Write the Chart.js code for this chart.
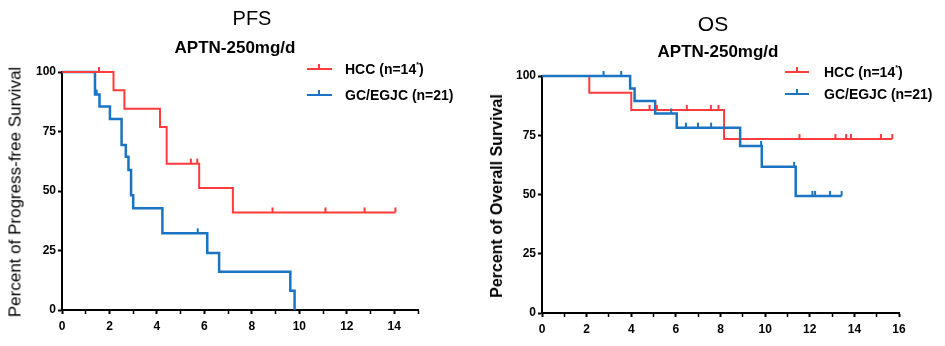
<!DOCTYPE html>
<html><head><meta charset="utf-8">
<script src="https://cdn.jsdelivr.net/npm/chart.js@4.4.0/dist/chart.umd.min.js"></script>
<style>
body{margin:0;background:#fff;}
#wrap{position:relative;width:945px;height:346px;overflow:hidden;font-family:"Liberation Sans",Arial,Helvetica,sans-serif;color:#000;background:#fff;}
.t{position:absolute;white-space:nowrap;transform:translate(-50%,-50%);line-height:1;}
.yt{position:absolute;white-space:nowrap;transform:translate(-50%,-50%) rotate(-90deg);line-height:1;}
.leg{position:absolute;font-weight:bold;font-size:14px;white-space:nowrap;line-height:1;transform:translateY(-50%);}
.leg sup{font-size:7px;vertical-align:top;position:relative;top:-1px;}
.sw{position:absolute;height:2px;}
.tk{position:absolute;width:2px;height:5px;}
canvas{position:absolute;top:0;}
</style></head>
<body>
<div id="wrap">
  <canvas id="c1" width="470" height="346" style="left:0"></canvas>
  <canvas id="c2" width="475" height="346" style="left:470px"></canvas>

  <div class="t" style="left:252px;top:18px;font-size:20px;">PFS</div>
  <div class="t" style="left:235px;top:47px;font-size:17px;font-weight:bold;">APTN-250mg/d</div>
  <div class="yt" style="left:15px;top:192px;font-size:17px;">Percent of Progress-free Survival</div>

  <div class="sw" style="left:307px;top:68px;width:25px;background:#ff3b3b"></div>
  <div class="tk" style="left:318px;top:64px;background:#ff3b3b"></div>
  <div class="leg" style="left:345px;top:69px;">HCC (n=14<sup>*</sup>)</div>
  <div class="sw" style="left:307px;top:94px;width:25px;background:#1a74c2"></div>
  <div class="tk" style="left:318px;top:90px;background:#1a74c2"></div>
  <div class="leg" style="left:345px;top:95px;">GC/EGJC (n=21)</div>

  <div class="t" style="left:713px;top:23px;font-size:21px;">OS</div>
  <div class="t" style="left:718px;top:51px;font-size:17px;font-weight:bold;">APTN-250mg/d</div>
  <div class="yt" style="left:497px;top:196px;font-size:16px;font-weight:bold;">Percent of Overall Survival</div>

  <div class="sw" style="left:785px;top:71px;width:24px;background:#ff3b3b"></div>
  <div class="tk" style="left:796px;top:67px;background:#ff3b3b"></div>
  <div class="leg" style="left:824px;top:72px;">HCC (n=14<sup>*</sup>)</div>
  <div class="sw" style="left:785px;top:93px;width:24px;background:#1a74c2"></div>
  <div class="tk" style="left:796px;top:89px;background:#1a74c2"></div>
  <div class="leg" style="left:824px;top:94px;">GC/EGJC (n=21)</div>
</div>
<script>
// ---- data (months, percent survival) ----
const pfsHccTimes  = [0, 2.17, 2.63, 4.13, 4.41, 5.78, 7.2, 14.05];
const pfsHccSurv   = [100, 92.3, 84.6, 76.9, 61.5, 51.3, 41.0, 41.0];
const pfsHccCensor = [1.56, 5.43, 5.7, 8.87, 11.1, 12.75, 14.05];

const pfsGcTimes  = [0, 1.39, 1.58, 2.02, 2.51, 2.69, 2.8, 2.91, 3.0, 4.23, 6.12, 6.62, 9.62, 9.8];
const pfsGcSurv   = [100, 90.5, 85.5, 80.3, 69.3, 64.4, 58.8, 48.2, 42.7, 32.2, 23.9, 16.1, 8.1, 0];
const pfsGcCensor = [1.46, 5.72];

const osHccTimes  = [0, 2.12, 4.0, 8.16, 15.7];
const osHccSurv   = [100, 92.9, 85.7, 73.4, 73.4];
const osHccCensor = [4.82, 5.15, 6.49, 7.57, 7.91, 11.54, 13.15, 13.63, 13.85, 15.19, 15.7];

const osGcTimes  = [0, 3.95, 4.15, 5.07, 6.04, 8.88, 9.85, 11.37, 13.43];
const osGcSurv   = [100, 94.7, 89.5, 84.2, 78.2, 70.5, 61.7, 49.4, 49.4];
const osGcCensor = [2.76, 3.55, 5.79, 6.45, 6.99, 7.58, 9.82, 11.3, 12.12, 12.24, 12.91, 13.43];

const yTicks = [0, 25, 50, 75, 100];
const pfsXMax = 15;
const osXMax = 16;

const RED = '#ff3b3b';
const BLUE = '#1a74c2';
const FONT = '"Liberation Sans", Arial, Helvetica, sans-serif';

function pts(times, surv){ return times.map((t,i)=>({x:t, y:surv[i]})); }
function survAt(times, surv, t){
  let v = surv[0];
  for (let i=0;i<times.length;i++){ if (times[i] <= t + 1e-9) v = surv[i]; }
  return v;
}

const censorPlugin = {
  id: 'censor',
  afterDatasetsDraw(chart){
    const ctx = chart.ctx, xs = chart.scales.x, ys = chart.scales.y;
    chart.data.datasets.forEach(ds=>{
      if (!ds.censors) return;
      ctx.save();
      ctx.strokeStyle = ds.borderColor;
      ctx.lineWidth = 2;
      ds.censors.forEach(t=>{
        const v = survAt(ds.times, ds.surv, t);
        const px = xs.getPixelForValue(t), py = ys.getPixelForValue(v);
        ctx.beginPath(); ctx.moveTo(px, py); ctx.lineTo(px, py-5); ctx.stroke();
      });
      ctx.restore();
    });
  }
};

function mkDs(label, times, surv, censors, color, width){
  return {label, data: pts(times,surv), times, surv, censors, stepped:'before',
    borderColor: color, backgroundColor: color, borderWidth: width, pointRadius:0,
    fill:false, tension:0, clip:false};
}

function mkChart(id, datasets, xMax, pad, yW, xH){
  return new Chart(document.getElementById(id), {
    type:'line',
    data:{datasets},
    plugins:[censorPlugin],
    options:{
      responsive:false, animation:false, devicePixelRatio:1,
      layout:{padding:pad},
      plugins:{legend:{display:false}, title:{display:false}, tooltip:{enabled:false}},
      scales:{
        x:{type:'linear', min:0, max:xMax,
          afterFit(s){ s.height = xH; },
          ticks:{stepSize:1, autoSkip:false, maxRotation:0, padding:5, color:'#000',
            font:{family:FONT, size:12, weight:'bold'},
            callback:(v)=> (v%2===0 && v<=xMax- (xMax%2)) ? String(v) : ''},
          grid:{drawOnChartArea:false, drawTicks:true, tickLength:4, tickColor:'#000',
            tickWidth:(c)=> (c.tick && c.tick.value%2===0) ? 2 : 1.5},
          border:{display:true, color:'#000', width:2}},
        y:{type:'linear', min:0, max:100,
          afterFit(s){ s.width = yW; },
          afterBuildTicks(s){ s.ticks = yTicks.map(v=>({value:v})); },
          ticks:{padding:2, color:'#000', font:{family:FONT, size:12, weight:'bold'}},
          grid:{drawOnChartArea:false, drawTicks:true, tickLength:4, tickColor:'#000', tickWidth:2},
          border:{display:true, color:'#000', width:2}}
      }
    }
  });
}

mkChart('c1', [
  mkDs('HCC (n=14*)', pfsHccTimes, pfsHccSurv, pfsHccCensor, RED, 2),
  mkDs('GC/EGJC (n=21)', pfsGcTimes, pfsGcSurv, pfsGcCensor, BLUE, 2.5)
], pfsXMax, {left:0, right:52, top:72, bottom:0}, 62, 36);

mkChart('c2', [
  mkDs('GC/EGJC (n=21)', osGcTimes, osGcSurv, osGcCensor, BLUE, 2.5),
  mkDs('HCC (n=14*)', osHccTimes, osHccSurv, osHccCensor, RED, 2)
], osXMax, {left:0, right:46, top:76, bottom:0}, 72, 33);
</script>
</body></html>
